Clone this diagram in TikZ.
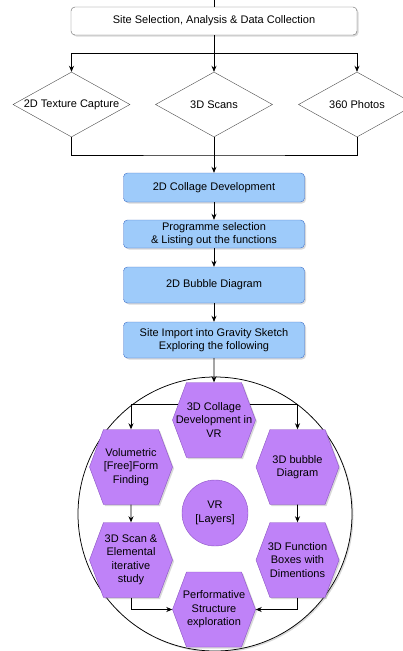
\documentclass[tikz,border=0pt]{standalone}
\usepackage{fontspec}
\setmainfont{Liberation Sans}
\usetikzlibrary{arrows.meta,shapes.geometric,shapes.symbols,shadows}
\definecolor{stepblue}{HTML}{9ECBFA}
\definecolor{stepblueline}{HTML}{3F6FC8}
\definecolor{vrpurple}{HTML}{BF82F8}
\definecolor{vrpurpleline}{HTML}{8A52C2}
\tikzset{
  every node/.style={font=\fontsize{11}{13.5}\selectfont, align=center},
  arr/.style={-{Stealth[length=6pt,width=5pt]}, line width=0.75pt},
  softshadow/.style={drop shadow={shadow xshift=1.5pt, shadow yshift=-1.5pt, opacity=0.3}},
  sitebox/.style={draw=black!60, fill=white, rounded corners=4pt, minimum width=286pt, minimum height=28pt, softshadow},
  datasrc/.style={diamond, draw=black!70, fill=white, minimum width=117pt, minimum height=65pt, inner sep=0pt, aspect=1.8},
  stepbox/.style={draw=stepblueline, fill=stepblue, rounded corners=4pt, minimum width=181pt, inner sep=1pt, softshadow},
  hexbox/.style={signal, signal to=east and west, signal pointer angle=139, draw=vrpurpleline, fill=vrpurple,
    minimum width=83pt, minimum height=75pt, inner xsep=-20pt, softshadow},
}
\begin{document}
\begin{tikzpicture}[x=1pt,y=-1pt]
  \useasboundingbox (0,0) rectangle (403,651);
  % data collection
  \coordinate (entry) at (214,0);
  \coordinate (split) at (214,53);
  \coordinate (merge) at (214,155);
  \node[sitebox] (site) at (214,21) {Site Selection, Analysis \& Data Collection};
  \node[datasrc] (texture) at (71.5,104.5) {2D Texture Capture};
  \node[datasrc] (scans) at (214,104.5) {3D Scans};
  \node[datasrc] (photos) at (357,104.5) {360 Photos};
  \draw[line width=0.75pt] (entry) -- (site);
  \draw[arr] (site) -- (scans);
  \draw[arr] (split) -| (texture);
  \draw[arr] (split) -| (photos);
  \draw[line width=0.75pt] (texture) |- (merge) -| (photos);
  \draw[line width=0.75pt] (scans) -- (merge);
  % planning steps
  \node[stepbox, minimum height=29pt] (collage) at (214,187.5) {2D Collage Development};
  \node[stepbox, minimum height=28pt] (programme) at (214,234) {Programme selection\\\& Listing out the functions};
  \node[stepbox, minimum height=36pt] (bubble) at (214,285) {2D Bubble Diagram};
  \node[stepbox, minimum height=36pt] (gravity) at (214,340) {Site Import into Gravity Sketch\\Exploring the following};
  \draw[arr] (merge) -- (collage);
  \draw[arr] (collage) -- (programme);
  \draw[arr] (programme) -- (bubble);
  \draw[arr] (bubble) -- (gravity);
  % vr zone
  \node[circle, draw, line width=0.75pt, fill=white, minimum size=274pt, softshadow] (zone) at (215,514) {};
  \node[hexbox] (collagevr) at (214,420) {3D Collage\\Development in\\VR};
  \node[hexbox] (formfind) at (131,467) {Volumetric\\{[Free]Form}\\Finding};
  \node[hexbox] (bubblevr) at (297.5,467) {3D bubble\\Diagram};
  \node[hexbox] (scanstudy) at (131,560) {3D Scan \&\\Elemental\\iterative\\study};
  \node[hexbox] (funcboxes) at (297.5,560) {3D Function\\Boxes with\\Dimentions};
  \node[hexbox] (perform) at (214,609.5) {Performative\\Structure\\exploration};
  \node[circle, draw=vrpurpleline, fill=vrpurple, minimum size=66pt, inner sep=0pt] (layers) at (215,513) {VR\\{[Layers]}};
  \draw[arr] (gravity) -- (collagevr);
  \draw[arr] (collagevr.157) -| (formfind);
  \draw[arr] (collagevr.23) -| (bubblevr);
  \draw[arr] (formfind) -- (scanstudy);
  \draw[arr] (bubblevr) -- (funcboxes);
  \draw[arr] (scanstudy) |- (perform);
  \draw[arr] (funcboxes) |- (perform);
\end{tikzpicture}
\end{document}
